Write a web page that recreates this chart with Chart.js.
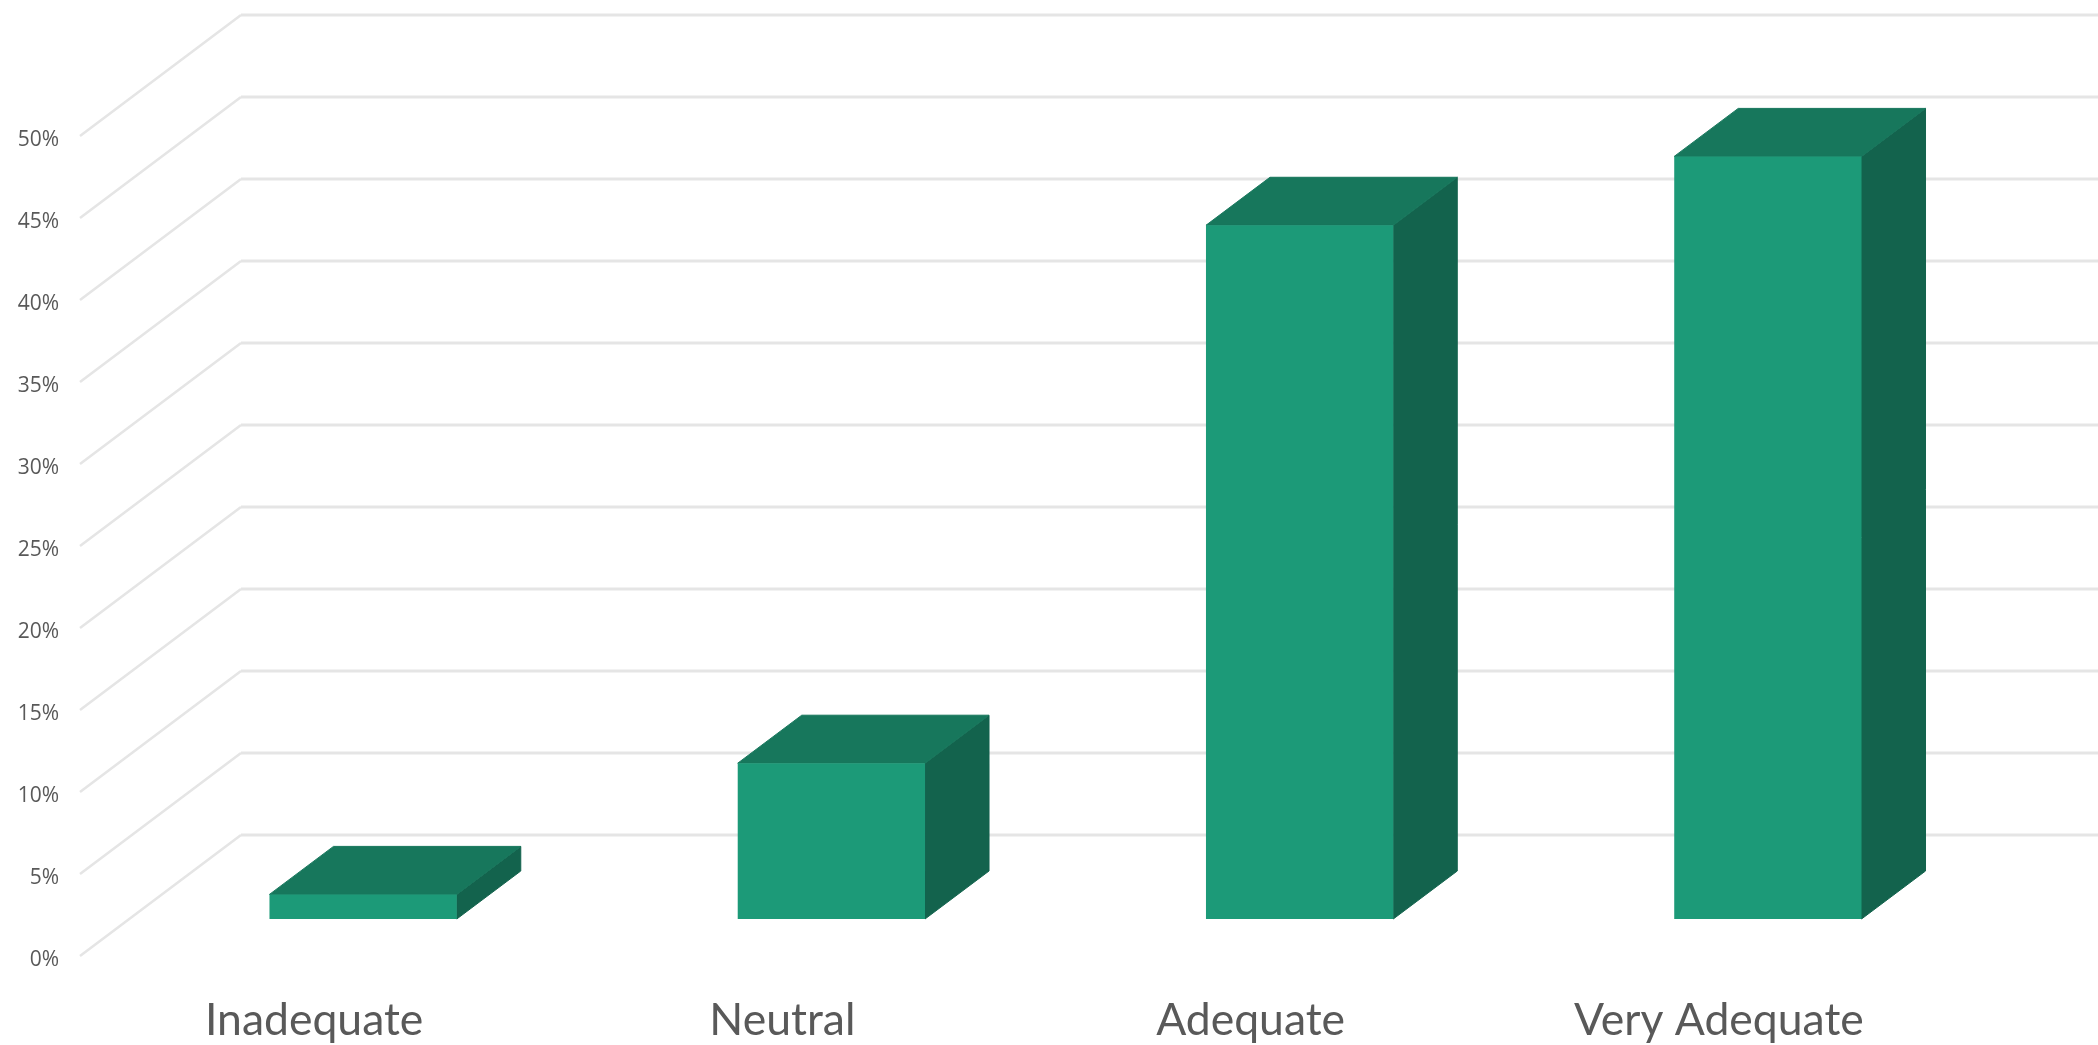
<!DOCTYPE html>
<html>
<head>
<meta charset="utf-8">
<style>html,body{margin:0;padding:0;background:#fff}canvas{display:block;filter:blur(0.6px)}</style>
<script src="https://cdn.jsdelivr.net/npm/chart.js@4"></script>
</head>
<body>
<canvas id="c" width="2098" height="1045"></canvas>
<script>
const categories = ["Inadequate", "Neutral", "Adequate", "Very Adequate"];
const shares = [1.5, 9.5, 42.3, 46.5];
const axisMax = 50;
const axisStep = 5;

const COL = {front:"#1c9a78", top:"#17775c", side:"#13634d", grid:"#e5e5e5", text:"#595959"};
const WALL = {dx:161, dy:121};      // floor depth of the oblique projection
const BAR_OFFSET = {dx:49, dy:37};  // bars stand partway into the floor
const BAR_DEPTH = {dx:64, dy:48};
const TICK_LABEL_DROP = 4;

function face(ctx, color, pts) {
  ctx.fillStyle = color;
  ctx.strokeStyle = color;
  ctx.lineWidth = 1;
  ctx.beginPath();
  pts.forEach((p, i) => i ? ctx.lineTo(p[0], p[1]) : ctx.moveTo(p[0], p[1]));
  ctx.closePath();
  ctx.fill();
  ctx.stroke();
}

const oblique = {
  id: "oblique",
  beforeDraw(chart) {
    chart.scales.y.getLabelItems().forEach(item => { item.textOffset = TICK_LABEL_DROP; });
  },
  beforeDatasetsDraw(chart) {
    const {ctx, chartArea, scales:{y}} = chart;
    ctx.save();
    ctx.strokeStyle = COL.grid;
    ctx.lineJoin = "round";
    y.ticks.forEach(t => {
      const py = y.getPixelForValue(t.value);
      ctx.lineWidth = 2.6;
      ctx.beginPath();
      ctx.moveTo(chartArea.left, py);
      ctx.lineTo(chartArea.left + WALL.dx, py - WALL.dy);
      ctx.stroke();
      ctx.lineWidth = 3;
      ctx.beginPath();
      ctx.moveTo(chartArea.left + WALL.dx, py - WALL.dy);
      ctx.lineTo(chart.width, py - WALL.dy);
      ctx.stroke();
    });
    ctx.restore();
  },
  beforeDatasetDraw(chart, args) {
    const {ctx} = chart;
    ctx.save();
    ctx.translate(BAR_OFFSET.dx, -BAR_OFFSET.dy);
    args.meta.data.forEach(bar => {
      const {x, y, base, width} = bar.getProps(["x","y","base","width"], true);
      const l = x - width/2, r = x + width/2;
      const dx = BAR_DEPTH.dx, dy = BAR_DEPTH.dy;
      face(ctx, COL.side, [[r, y], [r+dx, y-dy], [r+dx, base-dy], [r, base]]);
      face(ctx, COL.top, [[l, y], [l+dx, y-dy], [r+dx, y-dy], [r, y]]);
    });
  },
  afterDatasetDraw(chart) {
    chart.ctx.restore();
  }
};

new Chart(document.getElementById("c"), {
  type: "bar",
  data: {
    labels: categories,
    datasets: [{
      data: shares,
      backgroundColor: COL.front,
      borderWidth: 0,
      categoryPercentage: 1,
      barPercentage: 0.4,
      clip: false
    }]
  },
  plugins: [oblique],
  options: {
    responsive: false,
    animation: false,
    devicePixelRatio: 1,
    layout: {padding: {left: 0, top: 136, right: 145, bottom: 0}},
    plugins: {legend: {display: false}, tooltip: {enabled: false}, title: {display: false}},
    scales: {
      x: {
        grid: {display: false, drawTicks: false},
        border: {display: false},
        afterFit(s) { s.height = 89; },
        ticks: {
          padding: 38,
          autoSkip: false,
          maxRotation: 0,
          color: COL.text,
          font: {family: "Lato", size: 44.5}
        }
      },
      y: {
        min: 0,
        max: axisMax,
        grid: {display: false, drawTicks: false},
        border: {display: false},
        afterFit(s) { s.width = 80; },
        ticks: {
          stepSize: axisStep,
          padding: 21,
          color: COL.text,
          font: {family: "Open Sans", size: 21},
          callback: v => v + "%"
        }
      }
    }
  }
});
</script>
</body>
</html>
